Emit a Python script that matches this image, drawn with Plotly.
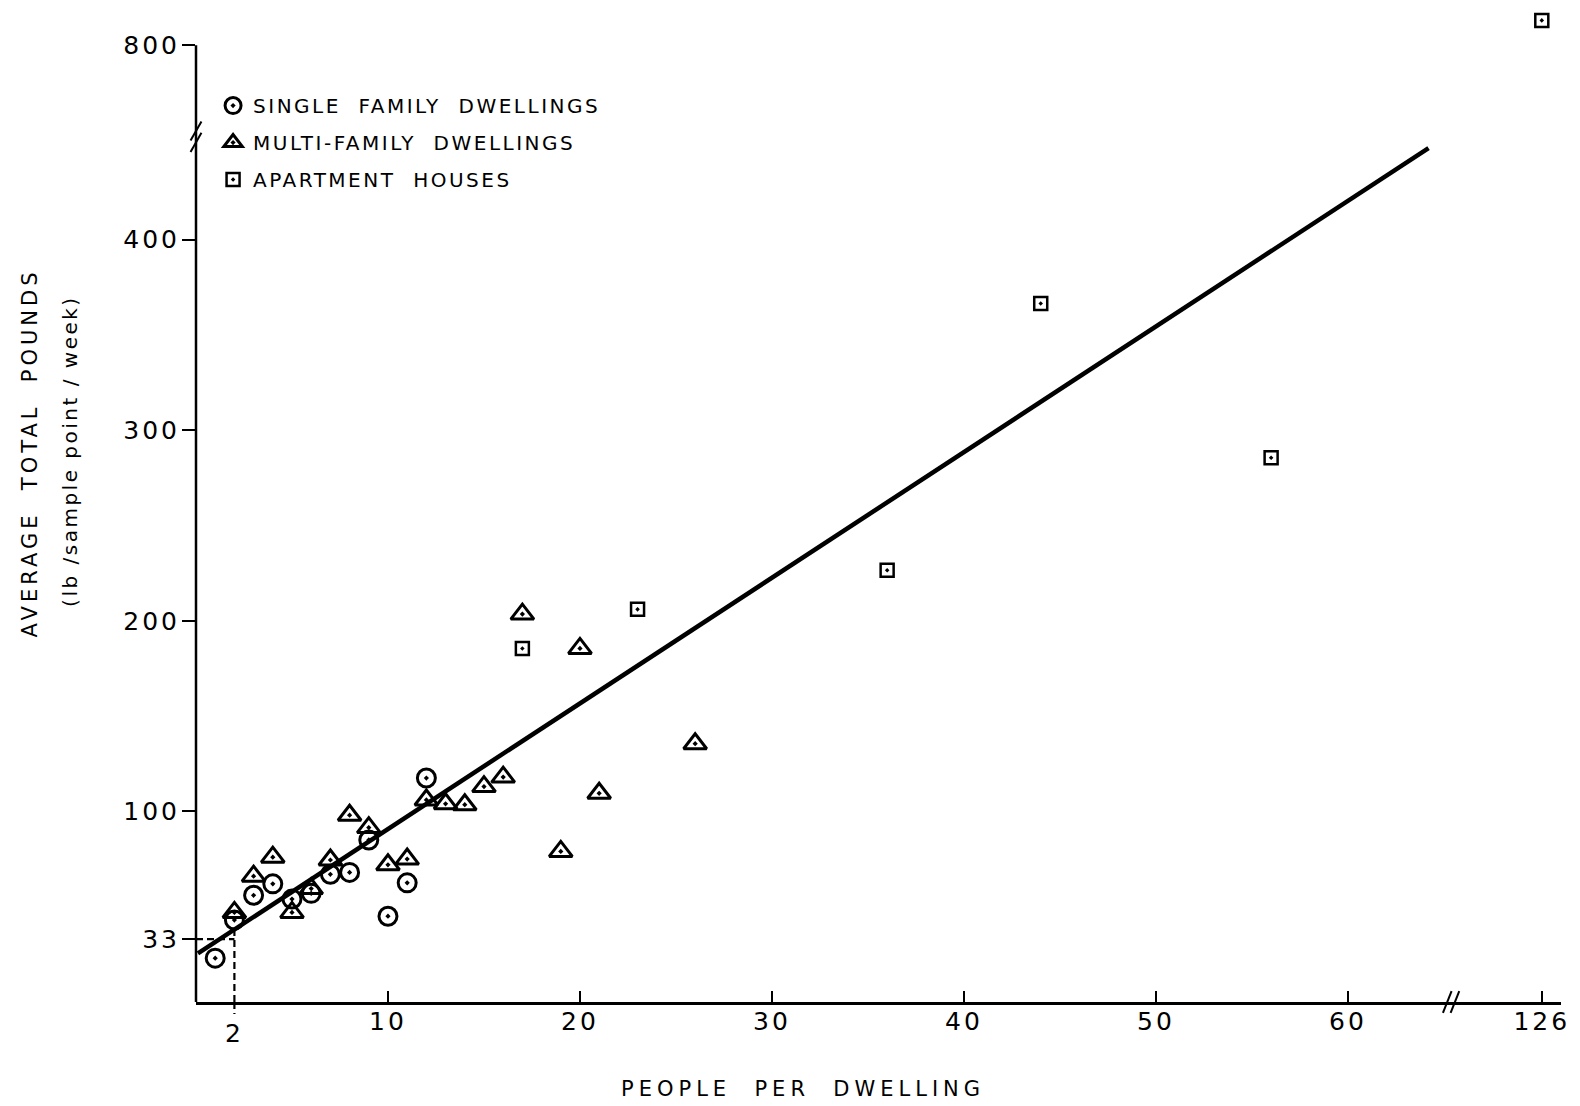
import numpy as np
import plotly.graph_objects as go

# ---------------- data ----------------
SF_X = [1, 2, 3, 4, 5, 6, 7, 8, 9, 10, 11, 12]
SF_Y = [23, 43, 56, 62, 54, 57, 67, 68, 85, 45, 62.5, 117.5]

MF_X = [2, 3, 4, 5, 6, 7, 8, 9, 10, 11, 12, 13, 14, 15, 16, 17, 19, 20, 21, 26]
MF_Y = [47, 66, 76, 47, 59.5, 74.5, 98, 91.5, 72, 75, 106, 104, 103.5, 113, 118,
        203.5, 79, 185.5, 109.5, 135.5]

AP_X = [17, 23, 36, 44, 56, 126]
AP_Y = [185.5, 206, 226.5, 366.5, 285.5, 813]

LINE_X = [0.1, 64.2]
LINE_Y = [25.5, 448]

GUIDE_X = 2
GUIDE_Y = 33

X_TICK_VALUES = [10, 20, 30, 40, 50, 60, 126]
X_TICK_LABELS = ["10", "20", "30", "40", "50", "60", "126"]
Y_TICK_VALUES = [33, 100, 200, 300, 400, 800]
Y_TICK_LABELS = ["33", "100", "200", "300", "400", "800"]

SERIES_NAMES = ["SINGLE FAMILY DWELLINGS", "MULTI-FAMILY DWELLINGS", "APARTMENT HOUSES"]
X_TITLE = "PEOPLE PER DWELLING"
Y_TITLE_1 = "AVERAGE TOTAL POUNDS"
Y_TITLE_2 = "(lb /sample point / week)"

# ---------------- broken axes ----------------
X_BREAK, X_SHIFT = 65, 55.9
Y_BREAK, Y_SHIFT = 450, 298


def bx(vals):
    return [v - X_SHIFT if v > X_BREAK else v for v in vals]


def by(vals):
    return [v - Y_SHIFT if v > Y_BREAK else v for v in vals]


def spaced(text, px, wide_words=True):
    sep = " \u00a0" if wide_words else " "
    return "<span style='letter-spacing:%spx'>%s</span>" % (px, sep.join(text.split(" ")))


FONT = "DejaVu Sans"
BLACK = "black"

fig = go.Figure()

fig.add_trace(go.Scatter(x=LINE_X, y=LINE_Y, mode="lines",
                         line=dict(color=BLACK, width=4.5), showlegend=False,
                         hoverinfo="skip"))

marker_line = dict(width=3, color=BLACK)
fig.add_trace(go.Scatter(x=bx(SF_X), y=by(SF_Y), mode="markers",
                         name=spaced(SERIES_NAMES[0], 2.5), legendgroup="a",
                         marker=dict(symbol="circle-open-dot", size=18,
                                     color=BLACK, line=marker_line)))
fig.add_trace(go.Scatter(x=bx(MF_X), y=by(MF_Y), mode="markers",
                         name=spaced(SERIES_NAMES[1], 2.5), legendgroup="b",
                         marker=dict(symbol="triangle-up-open-dot", size=20,
                                     color=BLACK, line=marker_line)))
fig.add_trace(go.Scatter(x=bx(AP_X), y=by(AP_Y), mode="markers",
                         name=spaced(SERIES_NAMES[2], 2.5), legendgroup="c",
                         marker=dict(symbol="square-open-dot", size=13,
                                     color=BLACK, line=dict(width=2.5, color=BLACK))))

# y axis line drawn only up to the 800 tick
fig.add_shape(type="line", xref="paper", yref="y", x0=0, x1=0,
              y0=0, y1=by([800])[0], line=dict(color=BLACK, width=2.5))

# dashed guides marking the fitted value at 2 people per dwelling
line_at_guide = float(np.interp(GUIDE_X, LINE_X, LINE_Y))
dash = dict(color=BLACK, width=2.2, dash="7px,4px")
fig.add_shape(type="line", xref="x", yref="y", x0=0, x1=GUIDE_X,
              y0=GUIDE_Y, y1=GUIDE_Y, line=dash)
fig.add_shape(type="line", xref="x", yref="y", x0=GUIDE_X, x1=GUIDE_X,
              y0=0, y1=line_at_guide, line=dash)
fig.add_shape(type="line", xref="x", yref="paper", x0=GUIDE_X, x1=GUIDE_X,
              y0=0, y1=-0.012, line=dash)

# axis break marks
for off in (0, 0.4):
    fig.add_shape(type="line", xref="x", yref="paper",
                  x0=X_BREAK - 0.05 + off, x1=X_BREAK + 0.4 + off,
                  y0=-0.011, y1=0.011, line=dict(color=BLACK, width=2))
for off in (0, 6):
    fig.add_shape(type="line", xref="paper", yref="y",
                  x0=-0.004, x1=0.004,
                  y0=Y_BREAK - 4 + off, y1=Y_BREAK + 6 + off,
                  line=dict(color=BLACK, width=2))

tickfont = dict(family=FONT, size=25, color=BLACK)
fig.update_xaxes(range=[0, 71.1], showline=True, linewidth=2.5, linecolor=BLACK,
                 ticks="inside", ticklen=11, tickwidth=2, tickcolor=BLACK,
                 tickvals=bx(X_TICK_VALUES),
                 ticktext=[spaced(t, 3) for t in X_TICK_LABELS],
                 ticklabelstandoff=-5,
                 tickfont=tickfont, showgrid=False, zeroline=False)
fig.update_yaxes(range=[0, 521.5], showline=False,
                 ticks="outside", ticklen=13, tickwidth=2, tickcolor=BLACK,
                 tickvals=by(Y_TICK_VALUES),
                 ticktext=[spaced(t, 3) for t in Y_TICK_LABELS],
                 ticklabelstandoff=-3,
                 tickfont=tickfont, showgrid=False, zeroline=False)

fig.add_annotation(x=GUIDE_X, y=0, xref="x", yref="y", text=spaced("2", 3),
                   showarrow=False, yanchor="top", yshift=-15,
                   font=tickfont)
fig.add_annotation(x=0.445, y=-0.088, xref="paper", yref="paper",
                   xanchor="center", yanchor="middle",
                   text=spaced(X_TITLE, 5), showarrow=False,
                   font=dict(family=FONT, size=21, color=BLACK))
fig.add_annotation(x=-0.1215, y=0.552, xref="paper", yref="paper",
                   xanchor="center", yanchor="middle",
                   text=spaced(Y_TITLE_1, 4), textangle=-90, showarrow=False,
                   font=dict(family=FONT, size=21, color=BLACK))
fig.add_annotation(x=-0.0919, y=0.554, xref="paper", yref="paper",
                   xanchor="center", yanchor="middle",
                   text=spaced(Y_TITLE_2, 2.5, wide_words=False), textangle=-90,
                   showarrow=False,
                   font=dict(family=FONT, size=20, color=BLACK))

fig.update_layout(
    width=1580, height=1106,
    margin=dict(l=196, r=19, t=8, b=104),
    paper_bgcolor="white", plot_bgcolor="white",
    font=dict(family=FONT, color=BLACK),
    legend=dict(x=0.0125, y=0.9215, xanchor="left", yanchor="top",
                bgcolor="rgba(0,0,0,0)", tracegroupgap=8,
                font=dict(family=FONT, size=20, color=BLACK)),
)

fig.write_html("out.html")
